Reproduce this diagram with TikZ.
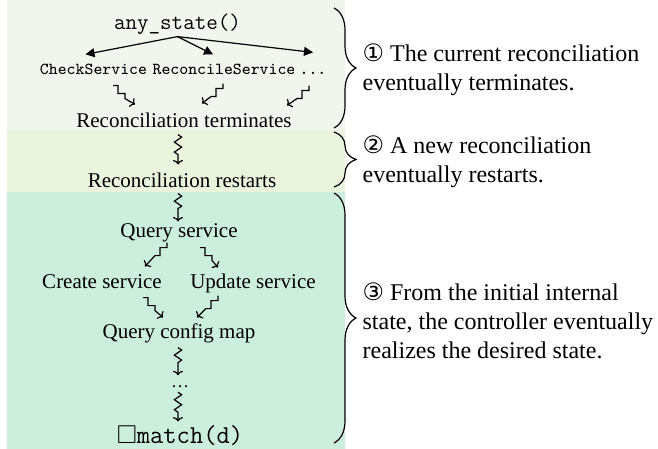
\documentclass[tikz,border=0pt]{standalone}
\usepackage{amssymb}
\usepackage{fontspec}
\setmainfont{Liberation Serif}
\newfontfamily\circfont{DejaVu Sans}
\usetikzlibrary{arrows.meta,calc,decorations.pathmorphing,decorations.pathreplacing}
\definecolor{phaseone}{RGB}{241,246,237}
\definecolor{phasetwo}{RGB}{232,244,220}
\definecolor{phasethree}{RGB}{204,238,220}

\begin{document}
\begin{tikzpicture}[
        x=0.5pt, y=-0.5pt, line width=0.6pt,
        >={To[length=2.2pt,width=5pt]},
        txt/.style={inner sep=0pt, anchor=base, text height=7pt, text depth=2pt, font=\fontsize{10.5}{12}\selectfont},
        code/.style={inner sep=0pt, anchor=base, text height=5pt, text depth=0pt, font=\fontsize{8.4}{10}\selectfont\ttfamily},
        note/.style={inner sep=0pt, anchor=west, align=left, font=\fontsize{12}{14.5}\selectfont},
        fan/.style={-{Triangle[length=4.5pt,width=4.5pt]}},
        squig/.style={->, decorate, decoration={zigzag, segment length=5pt, amplitude=1.8pt, post length=4pt}},
        stairR/.style={->, to path={-- ++(5,0) -- ++(0,8) -- ++(7,0) -- ++(0,5) -- (\tikztotarget)}},
        stairL/.style={->, to path={-- ++(0,5) -- ++(-7,0) -- ++(0,8) -- ++(-5,0) -- (\tikztotarget)}},
        brc/.style={decorate, decoration={brace, amplitude=11pt}}
    ]
        \useasboundingbox (0,0) rectangle (658,449);

        % the three phases
        \fill[phaseone]   (7,0)   rectangle (345,130);
        \fill[phasetwo]   (7,130) rectangle (345,192);
        \fill[phasethree] (7,192) rectangle (345,449);

        \node[code, font=\fontsize{11.2}{13}\selectfont\ttfamily, text height=8pt, text depth=2.5pt] (any) at (177.5,30) {any\_state()};
        \node[code] (check) at (93.5,75) {CheckService};
        \node[code] (recon) at (224,75) {ReconcileService};
        \node[code] (more)  at (313,75) {...};
        \node[txt] (term)    at (184,127) {Reconciliation terminates};
        \node[txt] (restart) at (182,187) {Reconciliation restarts};
        \node[txt] (query)   at (179,237) {Query service};
        \node[txt] (create)  at (102,288) {Create service};
        \node[txt] (update)  at (253,288) {Update service};
        \node[txt] (config)  at (179,338) {Query config map};
        \node[inner sep=0pt, anchor=base, font=\small] (etc) at (180,387) {\ldots};
        \node[inner sep=0pt, anchor=base, font=\fontsize{12.9}{15}\selectfont\ttfamily] (match) at (180,443) {$\square$match(d)};

        \draw[fan] ($(any.south)+(0,1)$) -- ($(check.north)+(-8,-10)$);
        \draw[fan] ($(any.south)+(0,1)$) -- ($(recon.north)+(-11,-10)$);
        \draw[fan] ($(any.south)+(0,1)$) -- ($(more.north)+(0,-12)$);

        \draw[stairR] ($(check.south)+(19.5,10)$) to ($(term.north)+(-49,-8)$);
        \draw[stairL] ($(recon.south)+(-1,8)$)    to ($(term.north)+(18,-9)$);
        \draw[stairL] ($(more.south)+(-4,10)$)    to ($(term.north)+(103,-7)$);

        \draw[squig] ($(term.south)+(-6,3)$)    -- ($(restart.north)+(-4,-8)$);
        \draw[squig] ($(restart.south)+(-4,2)$) -- ($(query.north)+(-1,-1)$);

        \draw[stairL] ($(query.south)+(-12,1)$) to ($(create.north)+(43,-7)$);
        \draw[stairR] ($(query.south)+(21,6)$)  to ($(update.north)+(-35,-6)$);
        \draw[stairR] ($(create.south)+(41,5)$) to ($(config.north)+(-16,-6)$);
        \draw[stairL] ($(update.south)+(-35,3)$) to ($(config.north)+(18,-6)$);

        \draw[squig] ($(config.south)+(-1,5)$) -- ($(etc.center)+(-2,-11)$);
        \draw[squig] ($(etc.center)+(-2,6)$)   -- ($(match.north)+(-2,-3)$);

        % braces and what each phase guarantees
        \draw[brc] (334,8)   -- (334,128);
        \draw[brc] (334,132) -- (334,187);
        \draw[brc] (334,193) -- (334,443);

        \node[note] (n1) at (362,70)  {{\circfont ①} The current reconciliation\\eventually terminates.};
        \node[note] (n2) at (362,162) {{\circfont ②} A new reconciliation\\eventually restarts.};
        \node[note] (n3) at (362,321) {{\circfont ③} From the initial internal\\state, the controller eventually\\realizes the desired state.};
    \end{tikzpicture}
\end{document}
